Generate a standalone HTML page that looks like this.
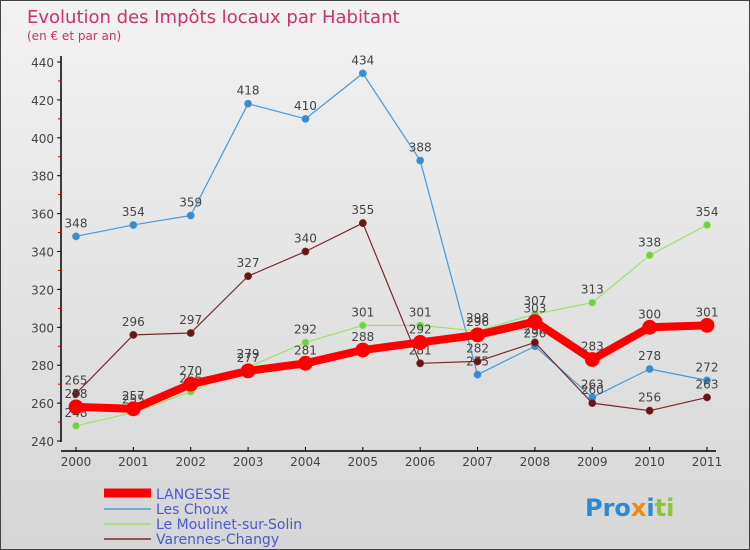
<!DOCTYPE html>
<html><head><meta charset="utf-8"><style>
body{margin:0;}
#c{width:748px;height:548px;border:1px solid #444;background:linear-gradient(#f2f2f2,#d6d6d6);position:relative;font-family:"DejaVu Sans","Liberation Sans",sans-serif;overflow:hidden}
svg text{font-family:"DejaVu Sans","Liberation Sans",sans-serif}
</style></head><body>
<div id="c">
<svg id="s" width="748" height="548" xmlns="http://www.w3.org/2000/svg">
<text x="26" y="22" font-size="18" fill="#c8326e">Evolution des Impôts locaux par Habitant</text>
<text x="26" y="39" font-size="12" fill="#c8326e">(en € et par an)</text>
<g id="axes"></g><g id="series"></g>
<g>
<line x1="103" y1="492" x2="150" y2="492" stroke="#f00" stroke-width="9"/>
<text x="155" y="498" font-size="14" fill="#4a5ad0">LANGESSE</text>
<line x1="103" y1="508" x2="150" y2="508" stroke="#4a9ad6" stroke-width="1.5"/>
<text x="155" y="513" font-size="14" fill="#4a5ad0">Les Choux</text>
<line x1="103" y1="523" x2="150" y2="523" stroke="#9ee070" stroke-width="1.5"/>
<text x="155" y="528" font-size="14" fill="#4a5ad0">Le Moulinet-sur-Solin</text>
<line x1="103" y1="538" x2="150" y2="538" stroke="#7a2a2a" stroke-width="1.5"/>
<text x="155" y="543" font-size="14" fill="#4a5ad0">Varennes-Changy</text>
</g>
<text x="584" y="515" font-size="24" font-weight="bold"><tspan fill="#2a8ad8">Pro</tspan><tspan fill="#f08a10">x</tspan><tspan fill="#2a8ad8">i</tspan><tspan fill="#8ac830">ti</tspan></text>
</svg></div>
<script>
const years=["2000","2001","2002","2003","2004","2005","2006","2007","2008","2009","2010","2011"];
const yTicks=[240,260,280,300,320,340,360,380,400,420,440];
const langesse=[258,257,270,277,281,288,292,296,303,283,300,301];
const lesChoux=[348,354,359,418,410,434,388,275,290,263,278,272];
const moulinet=[248,255,266,279,292,301,301,298,307,313,338,354];
const varennes=[265,296,297,327,340,355,281,282,292,260,256,263];
const NS="http://www.w3.org/2000/svg";
const X=i=>75+i*(706-75)/(years.length-1);
const Y=v=>440-(v-240)*(440-61)/200;
function mk(t,a,p){const e=document.createElementNS(NS,t);for(const k in a)e.setAttribute(k,a[k]);p.appendChild(e);return e;}
const ax=document.getElementById('axes');
let l=mk('line',{x1:60,y1:55,x2:60,y2:441,stroke:'#000','stroke-width':1.5},ax);


l=mk('line',{x1:60,y1:450,x2:715,y2:450,stroke:'#000','stroke-width':1.5},ax);


yTicks.forEach(v=>{
 mk('line',{x1:56,y1:Y(v),x2:60,y2:Y(v),stroke:'#000'},ax);
 if(v<440) mk('line',{x1:57,y1:Y(v+10),x2:60,y2:Y(v+10),stroke:'#d00'},ax);
 const t=mk('text',{x:53,y:Y(v)+5,'font-size':12,fill:'#444','text-anchor':'end'},ax);t.textContent=v;
 
 
});
years.forEach((y,i)=>{
 mk('line',{x1:X(i),y1:446,x2:X(i),y2:450,stroke:'#000'},ax);
 const t=mk('text',{x:X(i),y:465,'font-size':12,fill:'#444','text-anchor':'middle'},ax);t.textContent=y;
 
 
});
const sg=document.getElementById('series');
function draw(d,col,w,r,name,dot){
 const g=mk('g',{},sg);
 
 
 mk('polyline',{points:d.map((v,i)=>X(i)+','+Y(v)).join(' '),fill:'none',stroke:col,'stroke-width':w,'stroke-linejoin':'round'},g);
 d.forEach((v,i)=>{
  const c=mk('circle',{cx:X(i),cy:Y(v),r:r,fill:dot,stroke:col,'stroke-width':0.8},g);
  
  
  const t=mk('text',{x:X(i),y:Y(v)-9,'font-size':12,fill:'#444','text-anchor':'middle'},g);t.textContent=v;
  
  
 });
}
draw(lesChoux,'#4a9ad6',1.2,3.5,'les-choux-series','#3a8ad0');
draw(moulinet,'#9ee070',1.2,3.5,'moulinet-series','#70d040');
draw(varennes,'#7a2a2a',1.2,3.5,'varennes-series','#6a1515');
draw(langesse,'#f00',8,7,'langesse-series','#f00');
</script>
</body></html>
